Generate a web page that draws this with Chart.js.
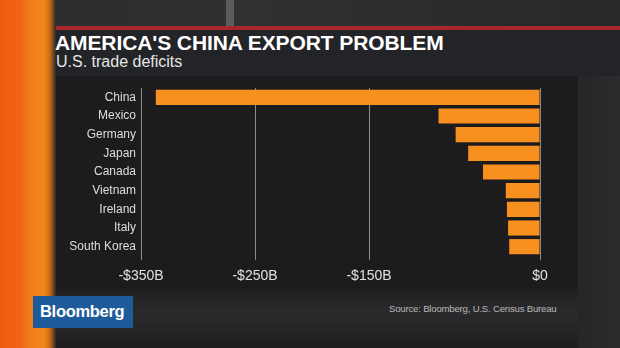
<!DOCTYPE html>
<html>
<head>
<meta charset="utf-8">
<script src="https://cdn.jsdelivr.net/npm/chart.js@4/dist/chart.umd.min.js"></script>
<style>
  html, body { margin:0; padding:0; width:620px; height:348px; overflow:hidden; background:#232325; }
  .abs { position:absolute; }
  body { font-family: "Liberation Sans", Arial, sans-serif; }
</style>
</head>
<body>
<!-- background decoration -->
<div class="abs" style="left:0;top:0;width:620px;height:27px;background:linear-gradient(90deg,#2a2b2d,#303133 40%,#2b2c2e 70%,#29292b);"></div>
<div class="abs" style="left:226px;top:0;width:8px;height:27px;background:#5a5b5d;"></div>
<div class="abs" style="left:0;top:290px;width:620px;height:58px;background:linear-gradient(180deg,#202022,#2b2b2d 40%,#1e1e20);"></div>
<div class="abs" style="left:578px;top:76px;width:42px;height:272px;background:linear-gradient(90deg,#252628,#2b2c2e);"></div>
<div class="abs" style="left:52px;top:26px;width:568px;height:4px;background:#a9272b;"></div>
<div class="abs" style="left:52px;top:30px;width:568px;height:46px;background:#232428;"></div>
<div class="abs" style="left:52px;top:76px;width:526px;height:214px;background:#1c1c1f;"></div>
<div class="abs" style="left:0;top:0;width:56px;height:348px;background:linear-gradient(90deg,#ef5c10 0px,#f0641a 20px,#f27c1c 30px,#f0861a 44px,#c86a16 50px,#2a2a2a 56px);"></div>

<div class="abs" style="left:55px;top:32px;font-size:21px;line-height:21px;font-weight:bold;color:#ffffff;letter-spacing:-0.1px;white-space:nowrap;">AMERICA'S CHINA EXPORT PROBLEM</div>
<div class="abs" style="left:56px;top:54px;font-size:16px;line-height:16px;color:#e6e6e6;white-space:nowrap;">U.S. trade deficits</div>

<div class="abs" style="left:33px;top:296px;width:100px;height:32px;background:#1d5b9b;"></div>
<div class="abs" style="left:40px;top:303px;font-size:16.5px;line-height:17px;font-weight:bold;color:#ffffff;letter-spacing:-0.3px;white-space:nowrap;">Bloomberg</div>
<div class="abs" style="left:389px;top:304px;font-size:9.6px;line-height:10px;color:#b8b8b8;letter-spacing:-0.2px;white-space:nowrap;">Source: Bloomberg, U.S. Census Bureau</div>

<div class="abs" style="left:0;top:0;width:620px;height:348px;">
  <canvas id="c"></canvas>
</div>

<script>
const categories = ["China", "Mexico", "Germany", "Japan", "Canada", "Vietnam", "Ireland", "Italy", "South Korea"];
const deficits = [-337, -89, -74, -63, -50, -30, -29, -28, -27];
const tickValues = [-350, -250, -150, 0];
const tickLabels = ["-$350B", "-$250B", "-$150B", "$0"];

new Chart(document.getElementById('c'), {
  type: 'bar',
  data: {
    labels: categories,
    datasets: [{
      data: deficits,
      backgroundColor: '#f8901f',
      borderWidth: 0,
      barPercentage: 0.81,
      categoryPercentage: 1.0
    }]
  },
  options: {
    indexAxis: 'y',
    responsive: true,
    maintainAspectRatio: false,
    animation: false,
    layout: { padding: { left: 0, top: 88, right: 80, bottom: 62 } },
    plugins: { legend: { display: false }, tooltip: { enabled: false } },
    scales: {
      x: {
        type: 'linear',
        min: -350,
        max: 0,
        afterBuildTicks: (scale) => { scale.ticks = tickValues.map(v => ({ value: v })); },
        afterFit: (scale) => { scale.height = 30; },
        grid: { color: '#8c8c8c', lineWidth: 1, drawTicks: true, tickLength: 4, tickColor: '#8c8c8c' },
        border: { display: false },
        ticks: {
          color: '#e2e2e2',
          font: { family: '"Liberation Sans", Arial, sans-serif', size: 14 },
          padding: 8,
          maxRotation: 0,
          autoSkip: false,
          callback: (value, index) => tickLabels[index]
        }
      },
      y: {
        afterFit: (scale) => { scale.width = 141; },
        grid: { display: false, drawTicks: false },
        border: { display: false },
        ticks: {
          color: '#dedede',
          font: { family: '"Liberation Sans", Arial, sans-serif', size: 12 },
          padding: 5,
          autoSkip: false
        }
      }
    }
  }
});
</script>
</body>
</html>
